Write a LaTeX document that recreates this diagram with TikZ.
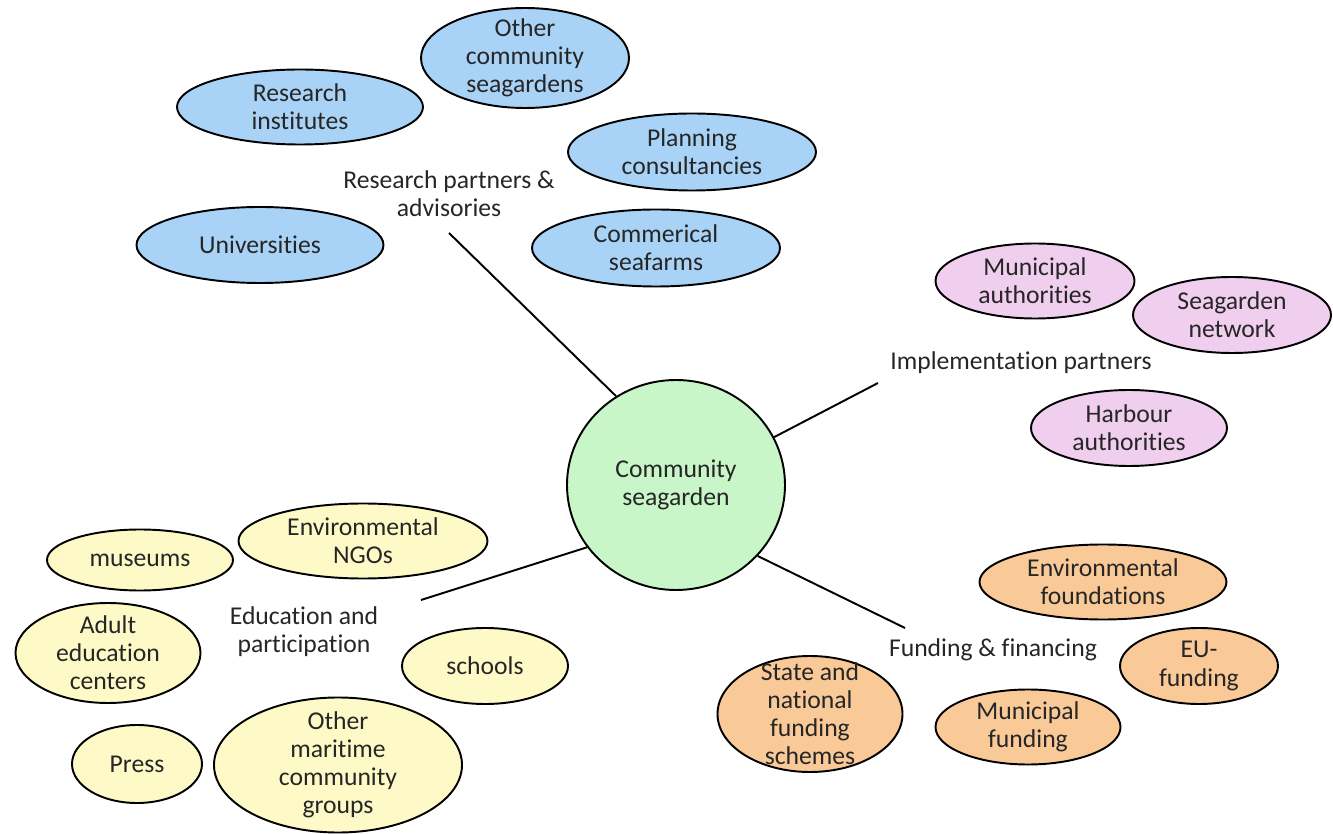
\documentclass[tikz,border=0pt]{standalone}
\usepackage{fontspec}
\setmainfont{Carlito}[Ligatures=NoCommon]
\usetikzlibrary{shapes.geometric}
\definecolor{myblue}{RGB}{169,211,246}
\definecolor{mypink}{RGB}{240,206,238}
\definecolor{myyellow}{RGB}{254,250,200}
\definecolor{myorange}{RGB}{250,201,152}
\definecolor{mygreen}{RGB}{200,246,200}

\begin{document}
\begin{tikzpicture}[x=0.02cm,y=-0.02cm,
  every node/.style={font=\fontsize{14.6}{16}\selectfont,text=black!85,align=center},
  bubble/.style={ellipse,draw,line width=1.1pt,inner sep=-12pt},
  rsnode/.style={bubble,fill=myblue},
  imnode/.style={bubble,fill=mypink},
  ednode/.style={bubble,fill=myyellow},
  fnnode/.style={bubble,fill=myorange},
  spoke/.style={line width=1.1pt}
]
\useasboundingbox (0,0) rectangle (1333,834);

% the centre
\node [bubble,fill=mygreen,minimum width=218*0.02cm,minimum height=210*0.02cm] (cs) at (676,485) {Community\\seagarden};

% the research partners
\foreach \n/\x/\y/\w/\h/\t in {
  ri/300/107/246/75/{Research\\institutes},
  oc/525/58/208/100/{Other\\community\\seagardens},
  pc/692/152/248/77/{Planning\\consultancies},
  un/260/245/247/76/{Universities},
  cf/656/248/248/77/{Commerical\\seafarms}}
  \node [rsnode,minimum width=\w*0.02cm,minimum height=\h*0.02cm] (\n) at (\x,\y) {\t};

% the implementation partners
\foreach \n/\x/\y/\w/\h/\t in {
  ma/1035/281/199/75/{Municipal\\authorities},
  sn/1232/315/198/76/{Seagarden\\network},
  ha/1129/428/196/76/{Harbour\\authorities}}
  \node [imnode,minimum width=\w*0.02cm,minimum height=\h*0.02cm] (\n) at (\x,\y) {\t};

% education and participation
\foreach \n/\x/\y/\w/\h/\t in {
  mu/140/560/186/61/{museums},
  en/363/541/249/75/{Environmental\\NGOs},
  ae/108/653/185/100/{Adult\\education\\centers},
  sc/485/666/166/76/{schools},
  pr/137/764/130/78/{Press},
  om/338/765/248/135/{Other\\maritime\\community\\groups}}
  \node [ednode,minimum width=\w*0.02cm,minimum height=\h*0.02cm] (\n) at (\x,\y) {\t};

% funding and financing
\foreach \n/\x/\y/\w/\h/\t in {
  ef/1103/582/247/75/{Environmental\\foundations},
  eu/1199/666/158/76/{EU-\\funding},
  sf/810/714/185/116/{State and\\national\\funding\\schemes},
  mf/1028/727/185/75/{Municipal\\funding}}
  \node [fnnode,minimum width=\w*0.02cm,minimum height=\h*0.02cm] (\n) at (\x,\y) {\t};

% the group titles
\node (rs) at (449,194) {Research partners \&\\advisories};
\node (im) at (1021,363) {Implementation partners};
\node (ed) at (304,632) {Education and\\participation};
\node (fn) at (993,650) {Funding \& financing};

% the spokes
\coordinate (rsend) at (449,233);
\coordinate (imend) at (878,383);
\coordinate (edend) at (421,600);
\coordinate (fnend) at (905,628);
\draw [spoke] (cs.124) -- (rsend);
\draw [spoke] (cs.26) -- (imend);
\draw [spoke] (cs.215) -- (edend);
\draw [spoke] (cs.319) -- (fnend);
\end{tikzpicture}
\end{document}
